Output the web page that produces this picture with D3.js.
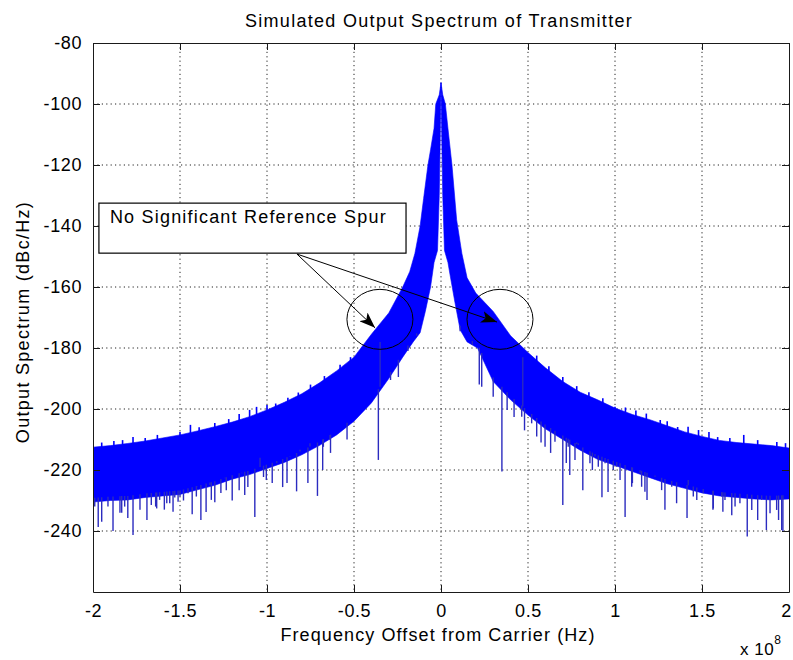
<!DOCTYPE html>
<html>
<head>
<meta charset="utf-8">
<script src="https://d3js.org/d3.v7.min.js"></script>
<style>
body { margin:0; background:#fff; }
text { font-family: "Liberation Sans", Arial, sans-serif; fill:#000; }
</style>
</head>
<body>
<script>

var svgwidth = 793;
var svgheight = 660;
var plotLeft = 93, plotRight = 789, plotTop = 43, plotBottom = 592;

// frequency offset in units of 1e8 Hz, levels in dBc/Hz
var xTicks = [-2, -1.5, -1, -0.5, 0, 0.5, 1, 1.5, 2];
var yTicks = [-240, -220, -200, -180, -160, -140, -120, -100, -80];

// upper edge of the noise band
var freqUp = [-2.0,-1.9,-1.8,-1.7,-1.6,-1.5,-1.4,-1.3,-1.2,-1.1,-1.0,-0.9,-0.8,-0.7,-0.6,-0.5,-0.4,-0.3,
  -0.22,-0.18,-0.15,-0.12,-0.1,-0.075,-0.06,-0.04,-0.03,-0.01,0,
  0.01,0.025,0.04,0.063,0.09,0.12,0.15,0.2,
  0.3,0.4,0.5,0.6,0.7,0.8,0.9,1.0,1.1,1.2,1.3,1.4,1.5,1.6,1.7,1.8,1.9,2.0];
var levelUp = [-212.5,-212,-211.3,-210.5,-209.5,-208.5,-207.2,-205.8,-204.3,-202.5,-200.3,-197.8,-195,-191.5,-187.5,-183,-175.5,-168.5,
  -160,-155,-149,-140,-131,-120,-115,-108,-100,-97,-93,
  -97,-100,-108,-120,-138,-149,-157,-162,
  -168,-176,-181.5,-186.5,-191,-194.5,-197,-199.7,-201.8,-203.5,-205.5,-207.5,-209,-210.3,-211,-211.5,-212,-212.8];

// lower (dense) edge of the noise band
var freqLo = [-2.0,-1.9,-1.8,-1.7,-1.6,-1.5,-1.4,-1.3,-1.2,-1.1,-1.0,-0.9,-0.8,-0.7,-0.6,-0.5,-0.4,-0.3,
  -0.22,-0.16,-0.12,-0.09,-0.06,-0.04,-0.02,-0.01,-0.005,0,
  0.005,0.01,0.02,0.04,0.055,0.08,0.11,0.15,0.21,
  0.3,0.4,0.5,0.6,0.7,0.8,0.9,1.0,1.1,1.2,1.3,1.4,1.5,1.6,1.7,1.8,1.9,2.0];
var levelLo = [-230.5,-230,-229.8,-229,-228.5,-228,-226.5,-225,-223,-221.5,-219.5,-217.5,-215,-212,-208.5,-204,-198,-190,
  -183,-178,-175,-168,-160,-152,-148,-130,-113,-93,
  -113,-130,-148,-152,-157,-165,-174,-178,-180,
  -191,-197,-202,-206.5,-210,-213.5,-216.5,-218.5,-220.5,-222.5,-224.5,-226,-227.5,-228.5,-229,-229.5,-229.8,-229.5];

// downward spikes below the band
var spikeFreq = [-1.99,-1.97,-1.95,-1.914,-1.885,-1.845,-1.835,-1.818,-1.8,-1.77,-1.73,-1.69,-1.665,-1.64,-1.634,-1.617,-1.59,-1.576,-1.559,
  -1.54,-1.53,-1.511,-1.5,-1.48,-1.454,-1.43,-1.406,-1.404,-1.38,-1.35,-1.328,-1.32,-1.3,-1.265,-1.241,-1.234,-1.2,-1.16,-1.145,-1.128,
  -1.11,-1.07,-1.04,-1.02,-1.004,-0.97,-0.944,-0.91,-0.885,-0.868,-0.83,-0.81,-0.765,-0.753,-0.71,-0.68,-0.676,-0.638,-0.635,
  -0.54,-0.36,-0.35,-0.29,-0.245,-0.19,-0.14,
  0.11,0.18,0.22,0.234,0.3,0.35,0.38,0.42,0.464,0.47,0.48,0.521,0.55,0.575,0.598,0.63,0.655,0.7,0.72,0.731,0.74,0.77,0.78,0.789,
  0.815,0.856,0.87,0.885,0.904,0.925,0.943,0.96,0.99,1.01,1.029,1.058,1.096,1.1,1.144,1.153,1.172,1.184,1.23,1.268,1.287,
  1.326,1.354,1.383,1.414,1.421,1.45,1.47,1.507,1.563,1.565,1.613,1.62,1.632,1.671,1.69,1.718,1.76,1.786,1.82,1.843,1.87,
  1.891,1.929,1.94,1.958,1.965];
var spikeLevel = [-232,-238.7,-237,-232,-240,-234,-234,-232,-235.7,-241.3,-233,-236.4,-231.5,-232,-232.6,-229.8,-233,-230.9,-230.9,
  -233.7,-229,-230.4,-228.7,-230,-227.6,-234.5,-228.7,-225.5,-236.4,-233.8,-224.9,-229.8,-230.6,-227.5,-222.7,-226.6,-230,-226.6,-221.1,-228.2,
  -225.6,-235.4,-216,-222.3,-223.3,-224.3,-217.8,-225.6,-224.3,-215.6,-227,-213.4,-224.3,-211.2,-228.5,-220,-212.4,-210.2,-214.4,
  -210,-216.7,-178,-190.5,-189.5,-181,-176,
  -174.5,-179,-192,-192.7,-196,-220.5,-200.3,-202.6,-202.5,-183,-207,-204.7,-209,-211,-212.4,-214.4,-210.7,-231.5,-217.7,-212.4,-221.6,-216.7,-211,-211.2,
  -226.6,-217.8,-220,-215.6,-218.9,-228.9,-217.8,-227.2,-220,-218.9,-223.3,-235.4,-225.5,-224.3,-221.1,-225.5,-227.1,-229.8,-222.2,-226.6,-233,
  -225.5,-230.9,-224.4,-235.7,-223.3,-228.7,-229.8,-227.6,-233,-232.6,-228.7,-233.7,-229.8,-234.8,-232,-230.9,-241.8,-233.1,-236.4,-229.8,-239.7,
  -234.2,-233.1,-236.4,-239.7,-240.3];

// small upward ticks above the band
var tickFreq = [-1.95,-1.88,-1.83,-1.77,-1.70,-1.63,-1.5,-1.44,-1.39,-1.30,-1.22,-1.16,-1.10,-1.06,-1.0,
  -0.95,-0.88,-0.82,-0.75,-0.67,-0.58,-0.52,
  0.55,0.62,0.70,0.78,0.85,0.93,1.0,1.06,1.12,1.18,1.26,1.3,1.36,1.42,1.48,1.54,1.59,1.66,1.74,1.82,1.93,1.98];
var tickLevel = [-211,-210.5,-210.2,-209.2,-209.5,-208.5,-207.5,-205.2,-206,-204.6,-203.3,-201.6,-200.3,-199.3,-198.7,
  -198.2,-196.3,-194.6,-192,-189.2,-185.5,-183,
  -182.5,-186,-189.5,-192.5,-194.5,-196.5,-199.3,-199.5,-200.5,-201.5,-203.6,-204,-205.9,-205.8,-206.9,-207.5,-209.2,-209.5,-208.5,-210.2,-210.8,-211.2];

var x = d3.scaleLinear().domain([-2, 2]).range([plotLeft, plotRight]);
var y = d3.scaleLinear().domain([-260, -80]).range([plotBottom, plotTop]);

var body = d3.select("body")
  .append("svg")
  .attr("width", svgwidth)
  .attr("height", svgheight)
  .style("background-color", "#fff");

body.append("defs").append("clipPath").attr("id", "plotclip")
  .append("rect").attr("x", plotLeft).attr("y", plotTop)
  .attr("width", plotRight - plotLeft).attr("height", plotBottom - plotTop);

var marker = body.select("defs").append("marker")
  .attr("id", "head")
  .attr("markerUnits", "userSpaceOnUse")
  .attr("markerWidth", 18).attr("markerHeight", 12)
  .attr("refX", 16).attr("refY", 6)
  .attr("orient", "auto");
marker.append("path").attr("d", "M0,0 L16,6 L0,12 L4,6 Z").attr("fill", "#000");

// dotted grid
var grid = body.append("g");
grid.selectAll(".gx").data(xTicks.slice(1, -1)).enter().append("line")
  .attr("x1", function(d){ return x(d); }).attr("x2", function(d){ return x(d); })
  .attr("y1", plotTop).attr("y2", plotBottom)
  .attr("stroke", "#222").attr("stroke-width", 1).attr("stroke-dasharray", "1.2,3.2");
grid.selectAll(".gy").data(yTicks.slice(0, -1)).enter().append("line")
  .attr("y1", function(d){ return y(d); }).attr("y2", function(d){ return y(d); })
  .attr("x1", plotLeft).attr("x2", plotRight)
  .attr("stroke", "#222").attr("stroke-width", 1).attr("stroke-dasharray", "1.2,3.2");

// spectrum
var plot = body.append("g").attr("clip-path", "url(#plotclip)");
var bandPts = freqUp.map(function(f, i){ return [x(f), y(levelUp[i])]; });
for (var i = freqLo.length - 1; i >= 0; i--) bandPts.push([x(freqLo[i]), y(levelLo[i])]);
plot.append("path")
  .attr("d", d3.line()(bandPts) + "Z")
  .attr("fill", "#0000ff")
  .attr("stroke", "#0000ff")
  .attr("stroke-width", 0.6);

var loEdge = d3.scaleLinear().domain(freqLo).range(levelLo);
var upEdge = d3.scaleLinear().domain(freqUp).range(levelUp);

plot.selectAll(".spike").data(spikeFreq).enter().append("line")
  .attr("x1", function(d){ return x(d); }).attr("x2", function(d){ return x(d); })
  .attr("y1", function(d, i){ return y(spikeLevel[i]); })
  .attr("y2", function(d){ return y(loEdge(d)) - 4; })
  .attr("stroke", "#2b2bbf").attr("stroke-width", 1.4);

plot.selectAll(".uptick").data(tickFreq).enter().append("line")
  .attr("x1", function(d){ return x(d); }).attr("x2", function(d){ return x(d); })
  .attr("y1", function(d, i){ return y(tickLevel[i]); })
  .attr("y2", function(d){ return y(upEdge(d)) + 4; })
  .attr("stroke", "#0000ff").attr("stroke-width", 1.6);

// axes, ticks pointing inward on all sides
function styleAxis(g) {
  g.selectAll("path").attr("stroke", "#1a1a1a").attr("stroke-width", 1);
  g.selectAll("line").attr("stroke", "#1a1a1a").attr("stroke-width", 1);
  g.selectAll("text").attr("font-size", 18).attr("font-family", "'Liberation Sans', Arial, sans-serif")
    .attr("letter-spacing", 0.6).attr("fill", "#000");
}
var fmt = function(d){ return String(d); };
var xAxisG = body.append("g").attr("transform", "translate(0," + plotBottom + ")")
  .call(d3.axisBottom(x).tickValues(xTicks).tickFormat(fmt).tickSizeInner(-7).tickSizeOuter(0).tickPadding(12))
  .call(styleAxis);
// keep the last label inside the page
xAxisG.selectAll(".tick text").filter(function(d){ return d === 2; }).attr("dx", -3);
body.append("g").attr("transform", "translate(0," + plotTop + ")")
  .call(d3.axisTop(x).tickValues(xTicks).tickFormat("").tickSizeInner(-7).tickSizeOuter(0))
  .call(styleAxis);
body.append("g").attr("transform", "translate(" + plotLeft + ",0)")
  .call(d3.axisLeft(y).tickValues(yTicks).tickFormat(fmt).tickSizeInner(-7).tickSizeOuter(0).tickPadding(11))
  .call(styleAxis);
body.append("g").attr("transform", "translate(" + plotRight + ",0)")
  .call(d3.axisRight(y).tickValues(yTicks).tickFormat("").tickSizeInner(-7).tickSizeOuter(0))
  .call(styleAxis);

// labels
body.append("text").attr("x", 439).attr("y", 27).attr("text-anchor", "middle")
  .attr("font-size", 18).attr("letter-spacing", 1.3)
  .text("Simulated Output Spectrum of Transmitter");
body.append("text").attr("x", 438).attr("y", 641).attr("text-anchor", "middle")
  .attr("font-size", 18).attr("letter-spacing", 1.1)
  .text("Frequency Offset from Carrier (Hz)");
body.append("text").attr("transform", "translate(29,322) rotate(-90)").attr("text-anchor", "middle")
  .attr("font-size", 18).attr("letter-spacing", 1.3)
  .text("Output Spectrum (dBc/Hz)");
var expo = body.append("text").attr("x", 740).attr("y", 655).attr("font-size", 17).attr("letter-spacing", 0.5);
expo.append("tspan").text("x 10");
expo.append("tspan").attr("dy", -11).attr("font-size", 12).text("8");

// annotation: text box, arrows and circles (data coordinates)
var boxF = [-1.966, -0.201], boxV = [-132.5, -148.9];
var arrowFrom = [-0.828, -149.2];
var arrowTips = [[-0.379, -173.4], [0.322, -171.5]];
var circles = [[-0.351, -170.6], [0.339, -170.6]];

var note = body.append("g");
note.append("rect")
  .attr("x", x(boxF[0])).attr("y", y(boxV[0]))
  .attr("width", x(boxF[1]) - x(boxF[0])).attr("height", y(boxV[1]) - y(boxV[0]))
  .attr("fill", "#fff").attr("stroke", "#000").attr("stroke-width", 1.2);
note.append("text").attr("x", x(boxF[0]) + 11).attr("y", y(boxV[0]) + 20)
  .attr("font-size", 18).attr("letter-spacing", 1.2)
  .text("No Significant Reference Spur");
note.selectAll(".circ").data(circles).enter().append("ellipse")
  .attr("cx", function(d){ return x(d[0]); }).attr("cy", function(d){ return y(d[1]); })
  .attr("rx", 33).attr("ry", 30)
  .attr("fill", "none").attr("stroke", "#000").attr("stroke-width", 1);
note.selectAll(".arr").data(arrowTips).enter().append("line")
  .attr("x1", x(arrowFrom[0])).attr("y1", y(arrowFrom[1]))
  .attr("x2", function(d){ return x(d[0]); }).attr("y2", function(d){ return y(d[1]); })
  .attr("stroke", "#000").attr("stroke-width", 1)
  .attr("marker-end", "url(#head)");

</script>
</body>
</html>
